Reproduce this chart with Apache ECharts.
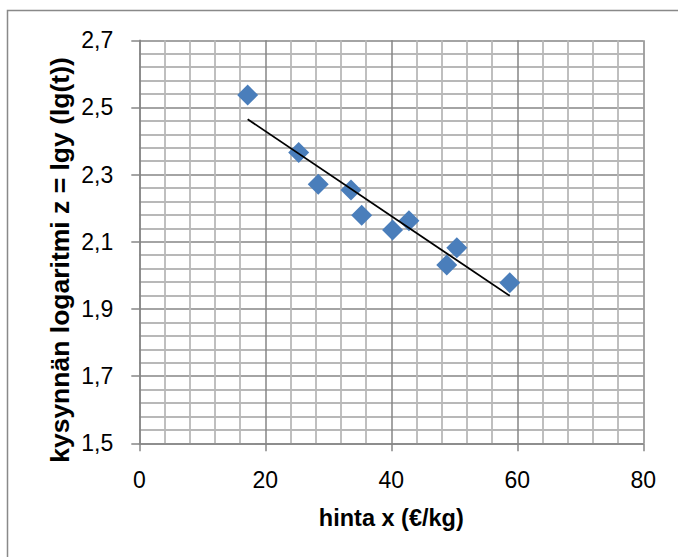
<!DOCTYPE html>
<html>
<head>
<meta charset="utf-8">
<script src="https://cdn.jsdelivr.net/npm/echarts@6/dist/echarts.min.js"></script>
<style>
html,body{margin:0;padding:0;background:#fff;}
#chart{width:678px;height:557px;}
</style>
</head>
<body>
<div id="chart"></div>
<script>
// Data
const priceX = [17.2, 25.3, 28.4, 33.6, 35.3, 40.2, 42.8, 48.8, 50.4, 58.8];
const logDemandZ = [2.537, 2.366, 2.271, 2.254, 2.179, 2.135, 2.163, 2.031, 2.082, 1.978];
const trendX = [17.2, 58.8];
const trendZ = [2.465, 1.939];
const xTicks = [0, 20, 40, 60, 80];
const yTicks = [1.5, 1.7, 1.9, 2.1, 2.3, 2.5, 2.7];
const xTitle = 'hinta x (€/kg)';
const yTitle = 'kysynnän logaritmi z = lgy (lg(t))';

const FONT = '"Liberation Sans", Arial, sans-serif';
const chart = echarts.init(document.getElementById('chart'), null, {renderer: 'svg'});

const scatterData = priceX.map((x, i) => [x, logDemandZ[i]]);
const trendData = trendX.map((x, i) => [x, trendZ[i]]);

chart.setOption({
  animation: false,
  backgroundColor: '#ffffff',
  grid: {left: 139.3, top: 40.3, width: 504, height: 403, containLabel: false},
  xAxis: {
    type: 'value',
    min: xTicks[0], max: xTicks[xTicks.length - 1], interval: 20,
    name: xTitle, nameLocation: 'middle', nameGap: 63,
    nameTextStyle: {fontFamily: FONT, fontWeight: 'bold', fontSize: 23.5, color: '#000'},
    axisLine: {show: true, onZero: false, lineStyle: {color: '#868686', width: 1.5}},
    axisTick: {show: true, inside: false, length: 8, lineStyle: {color: '#868686', width: 1.5}},
    axisLabel: {margin: 25, fontFamily: FONT, fontSize: 23, color: '#000'},
    splitLine: {show: true, lineStyle: {color: '#868686', width: 1.5}},
    minorTick: {show: false, splitNumber: 5},
    minorSplitLine: {show: true, lineStyle: {color: '#b8b8b8', width: 1.8}}
  },
  yAxis: {
    type: 'value',
    min: yTicks[0], max: yTicks[yTicks.length - 1], interval: 0.2,
    axisLine: {show: true, onZero: false, lineStyle: {color: '#868686', width: 1.5}},
    axisTick: {show: true, inside: false, length: 8, lineStyle: {color: '#868686', width: 1.5}},
    axisLabel: {margin: 26, fontFamily: FONT, fontSize: 23, color: '#000',
      formatter: v => v.toFixed(1).replace('.', ',')},
    splitLine: {show: true, lineStyle: {color: '#868686', width: 1.5}},
    minorTick: {show: false, splitNumber: 5},
    minorSplitLine: {show: true, lineStyle: {color: '#b8b8b8', width: 1.8}}
  },
  graphic: [
    {type: 'rect', shape: {x: 7.5, y: 10.5, width: 800, height: 700},
     style: {fill: 'none', stroke: '#898989', lineWidth: 1.5}, silent: true, z: -10},
    {type: 'text', x: 60, y: 260, rotation: Math.PI / 2,
     style: {text: yTitle, font: 'bold 26.5px ' + FONT, fill: '#000',
             textAlign: 'center', textVerticalAlign: 'middle'}}
  ],
  series: [
    {type: 'scatter', data: scatterData, symbol: 'diamond', symbolSize: [21, 21],
     itemStyle: {color: '#4A7EBB', opacity: 1}, z: 2},
    {type: 'line', data: trendData, symbol: 'none', z: 3,
     lineStyle: {color: '#000', width: 1.8}}
  ]
});
</script>
</body>
</html>
